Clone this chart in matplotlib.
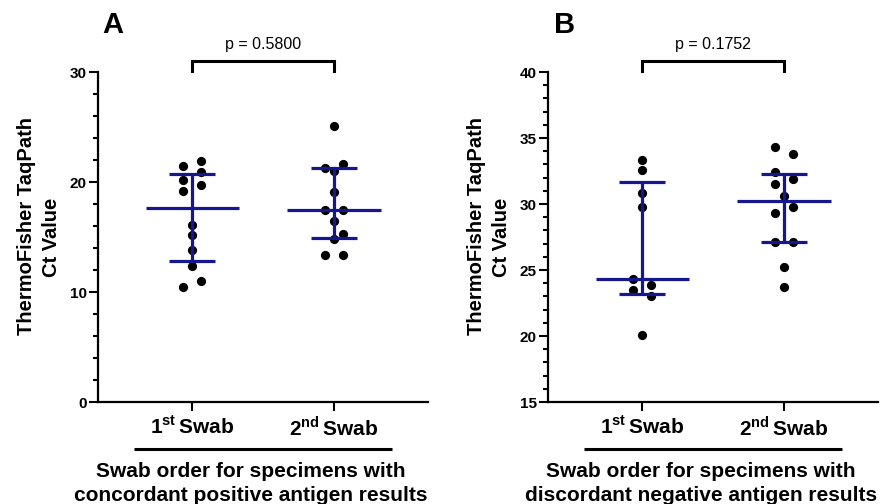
import matplotlib
matplotlib.use('Agg')
import matplotlib.pyplot as plt
import matplotlib.transforms as mtrans
from matplotlib.ticker import MultipleLocator

plt.rcParams['font.family'] = ['Liberation Sans', 'DejaVu Sans']
plt.rcParams['mathtext.fontset'] = 'custom'
plt.rcParams['mathtext.rm'] = 'Liberation Sans'
plt.rcParams['mathtext.bf'] = 'Liberation Sans:bold'

groups = ['1$^{\\mathbf{st}}\\,$Swab', '2$^{\\mathbf{nd}}\\,$Swab']

# panel A : concordant positive antigen results
a_first = [21.9, 21.5, 20.9, 20.2, 19.7, 19.2, 16.1, 15.2, 13.8, 12.4, 11.0, 10.5]
a_second = [25.1, 21.6, 21.3, 21.0, 19.1, 17.5, 17.5, 16.5, 15.3, 14.8, 13.4, 13.4]
a_median = [17.65, 17.5]
a_q1 = [12.8, 14.9]
a_q3 = [20.7, 21.3]
a_p = 'p = 0.5800'
a_xlabel = ['Swab order for specimens with', 'concordant positive antigen results']

# panel B : discordant negative antigen results
b_first = [33.3, 32.6, 30.8, 29.8, 24.3, 23.9, 23.5, 23.0, 20.1]
b_second = [34.3, 33.8, 32.4, 31.9, 31.5, 30.6, 29.8, 29.3, 27.1, 27.1, 25.2, 23.7]
b_median = [24.3, 30.2]
b_q1 = [23.2, 27.1]
b_q3 = [31.7, 32.3]
b_p = 'p = 0.1752'
b_xlabel = ['Swab order for specimens with', 'discordant negative antigen results']

ylabel = ['ThermoFisher TaqPath', 'Ct Value']

# which side of the column each dot sits on (-1 left, 0 centre, 1 right)
a_first_side = [1, -1, 1, -1, 1, -1, 0, 0, 0, 0, 1, -1]
a_second_side = [0, 1, -1, 0, 0, -1, 1, 0, 1, 0, -1, 1]
b_first_side = [0, 0, 0, 0, -1, 1, -1, 1, 0]
b_second_side = [-1, 1, -1, 1, -1, 0, 1, -1, -1, 1, 0, 0]

W, H = 880, 504
NAVY = '#16168f'
STEP = 0.064

fig = plt.figure(figsize=(W / 100, H / 100), dpi=100)


def px_axes(left, top, right, bottom):
    return fig.add_axes([left / W, 1 - bottom / H, (right - left) / W, (bottom - top) / H])


def draw_panel(ax, cols, sides, med, q1, q3, ylim, major, minor, ptext, xlab):
    for i, (vals, sd) in enumerate(zip(cols, sides)):
        xs = [i + 1 + s * STEP for s in sd]
        ax.scatter(xs, vals, s=44, color='black', zorder=3, clip_on=False, linewidths=0)
    pos = [1, 2]
    for x, m, lo, hi in zip(pos, med, q1, q3):
        kw = dict(color=NAVY, lw=2.3, solid_capstyle='butt', zorder=4)
        ax.plot([x - 0.33, x + 0.33], [m, m], **kw)
        ax.plot([x, x], [lo, hi], **kw)
        ax.plot([x - 0.163, x + 0.163], [lo, lo], **kw)
        ax.plot([x - 0.163, x + 0.163], [hi, hi], **kw)

    ax.set_xlim(0.333, 2.665)
    ax.set_ylim(*ylim)
    ax.yaxis.set_major_locator(MultipleLocator(major))
    ax.yaxis.set_minor_locator(MultipleLocator(minor))
    ax.set_xticks(pos)
    ax.set_xticklabels(groups, fontsize=15, fontweight='bold')
    for lab in ax.get_yticklabels():
        lab.set_fontweight('bold')
    ax.tick_params(axis='y', which='major', length=6.5, width=1.5, labelsize=11, pad=1.5)
    ax.tick_params(axis='y', which='minor', length=3.5, width=1.5)
    ax.tick_params(axis='x', length=6.5, width=1.5, pad=3)
    for side in ['top', 'right']:
        ax.spines[side].set_visible(False)
    for side in ['left', 'bottom']:
        ax.spines[side].set_linewidth(1.6)

    tr = mtrans.blended_transform_factory(ax.transData, ax.transAxes)
    ax.plot([1, 1, 2, 2], [1.004, 1.034, 1.034, 1.004], transform=tr, clip_on=False,
            color='black', lw=2.2, solid_joinstyle='miter')
    ax.text(1.5, 1.082, ptext, transform=tr, ha='center', va='center', fontsize=11.5)
    ax.plot([1 - 0.41, 2 + 0.41], [-0.142, -0.142], transform=tr, clip_on=False,
            color='black', lw=2.2, solid_capstyle='butt')
    ax.text(1.415, -0.212, xlab[0], transform=tr, ha='center', va='center',
            fontsize=15, fontweight='bold')
    ax.text(1.415, -0.283, xlab[1], transform=tr, ha='center', va='center',
            fontsize=15, fontweight='bold')


ax_a = px_axes(98, 72, 428, 402)
draw_panel(ax_a, [a_first, a_second], [a_first_side, a_second_side],
           a_median, a_q1, a_q3, (0, 30), 10, 2, a_p, a_xlabel)

ax_b = px_axes(548, 72, 878, 402)
draw_panel(ax_b, [b_first, b_second], [b_first_side, b_second_side],
           b_median, b_q1, b_q3, (15, 40), 5, 1, b_p, b_xlabel)

# y labels and panel letters, placed in pixel coordinates
for x0, x1 in [(26, 51), (476, 501)]:
    fig.text(x0 / W, 1 - 226 / H, ylabel[0], rotation=90, ha='center', va='center',
             fontsize=14.5, fontweight='bold')
    fig.text(x1 / W, 1 - 237.5 / H, ylabel[1], rotation=90, ha='center', va='center',
             fontsize=14.5, fontweight='bold')

fig.text(112.5 / W, 1 - 25 / H, 'A', ha='center', va='center', fontsize=21,
         fontweight='bold')
fig.text(565 / W, 1 - 25 / H, 'B', ha='center', va='center', fontsize=21,
         fontweight='bold')

fig.savefig('out.png', dpi=100)
